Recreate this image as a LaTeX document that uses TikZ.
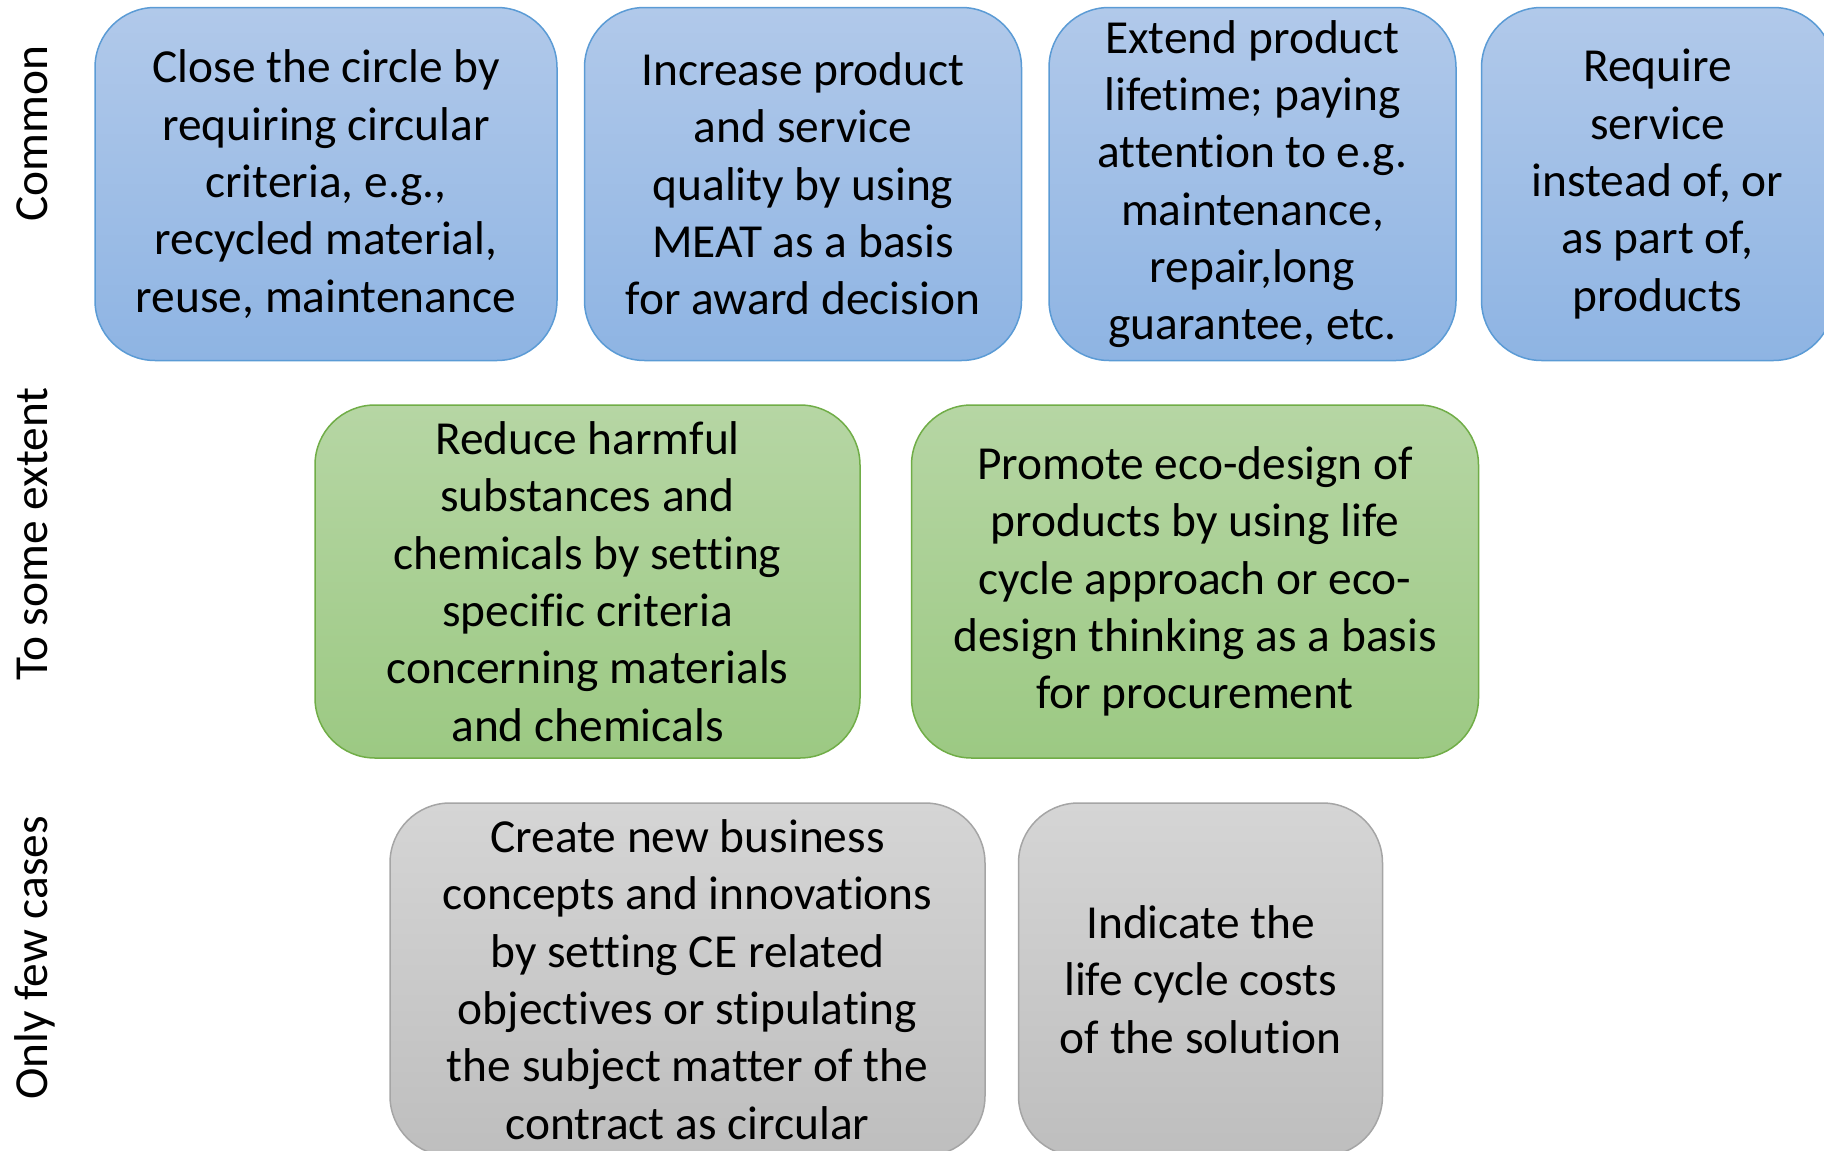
\documentclass[tikz,border=0pt]{standalone}
\usepackage{fontspec}
\setmainfont{Carlito}[Ligatures={NoCommon,NoRequired}]
\usetikzlibrary{positioning}
\def\boxsep{26pt}
\definecolor{blueedge}{RGB}{91,155,213}
\definecolor{bluetop}{RGB}{177,201,234}
\definecolor{bluebot}{RGB}{142,180,227}
\definecolor{greenedge}{RGB}{112,173,71}
\definecolor{greentop}{RGB}{182,214,164}
\definecolor{greenbot}{RGB}{156,201,131}
\definecolor{greyedge}{RGB}{165,165,165}
\definecolor{greytop}{RGB}{213,213,213}
\definecolor{greybot}{RGB}{190,190,190}
\tikzstyle{box}=[rectangle, rounded corners=60pt, minimum height=353pt, inner sep=0pt, align=center, line width=1.5pt, font=\fontsize{47.4}{57.3}\selectfont]
\tikzstyle{common box}=[box, draw=blueedge, top color=bluetop, bottom color=bluebot]
\tikzstyle{some box}=[box, draw=greenedge, top color=greentop, bottom color=greenbot]
\tikzstyle{few box}=[box, draw=greyedge, top color=greytop, bottom color=greybot]
\tikzstyle{row label}=[rotate=90, anchor=base, inner sep=0pt, font=\fontsize{47.4}{57.3}\selectfont]

\begin{document}
\begin{tikzpicture}[x=1pt, y=-1pt]
		\useasboundingbox (0,0) rectangle (1824,1151);
		% Row labels on the left
		\node[row label] (L-1) at (47,134) {Common};
		\node[row label] (L-2) at (47,534) {To some extent};
		\node[row label] (L-3) at (47,958) {Only few cases};
		% Common
		\node[common box, minimum width=462pt] (C-1) at (326,184) {Close the circle by\\requiring circular\\criteria, e.g.,\\recycled material,\\reuse, maintenance};
		\node[common box, minimum width=437pt, right=\boxsep of C-1] (C-2) {Increase product\\and service\\quality by using\\MEAT as a basis\\for award decision};
		\node[common box, minimum width=407pt, right=\boxsep of C-2] (C-3) {Extend product\\lifetime; paying\\attention to e.g.\\maintenance,\\repair,long\\guarantee, etc.};
		\node[common box, minimum width=352pt, right=24pt of C-3] (C-4) {Require\\service\\instead of, or\\as part of,\\products};
		% To some extent
		\node[some box, minimum width=545pt] (G-1) at (587.5,581.5) {Reduce harmful\\substances and\\chemicals by setting\\specific criteria\\concerning materials\\and chemicals};
		\node[some box, minimum width=567pt, right=50pt of G-1] (G-2) {Promote eco-design of\\products by using life\\cycle approach or eco-\\design thinking as a basis\\for procurement};
		% Only few cases
		\node[few box, minimum width=595pt] (F-1) at (687.5,979.5) {Create new business\\concepts and innovations\\by setting CE related\\objectives or stipulating\\the subject matter of the\\contract as circular};
		\node[few box, minimum width=364pt, right=32pt of F-1] (F-2) {Indicate the\\life cycle costs\\of the solution};
	\end{tikzpicture}
\end{document}
